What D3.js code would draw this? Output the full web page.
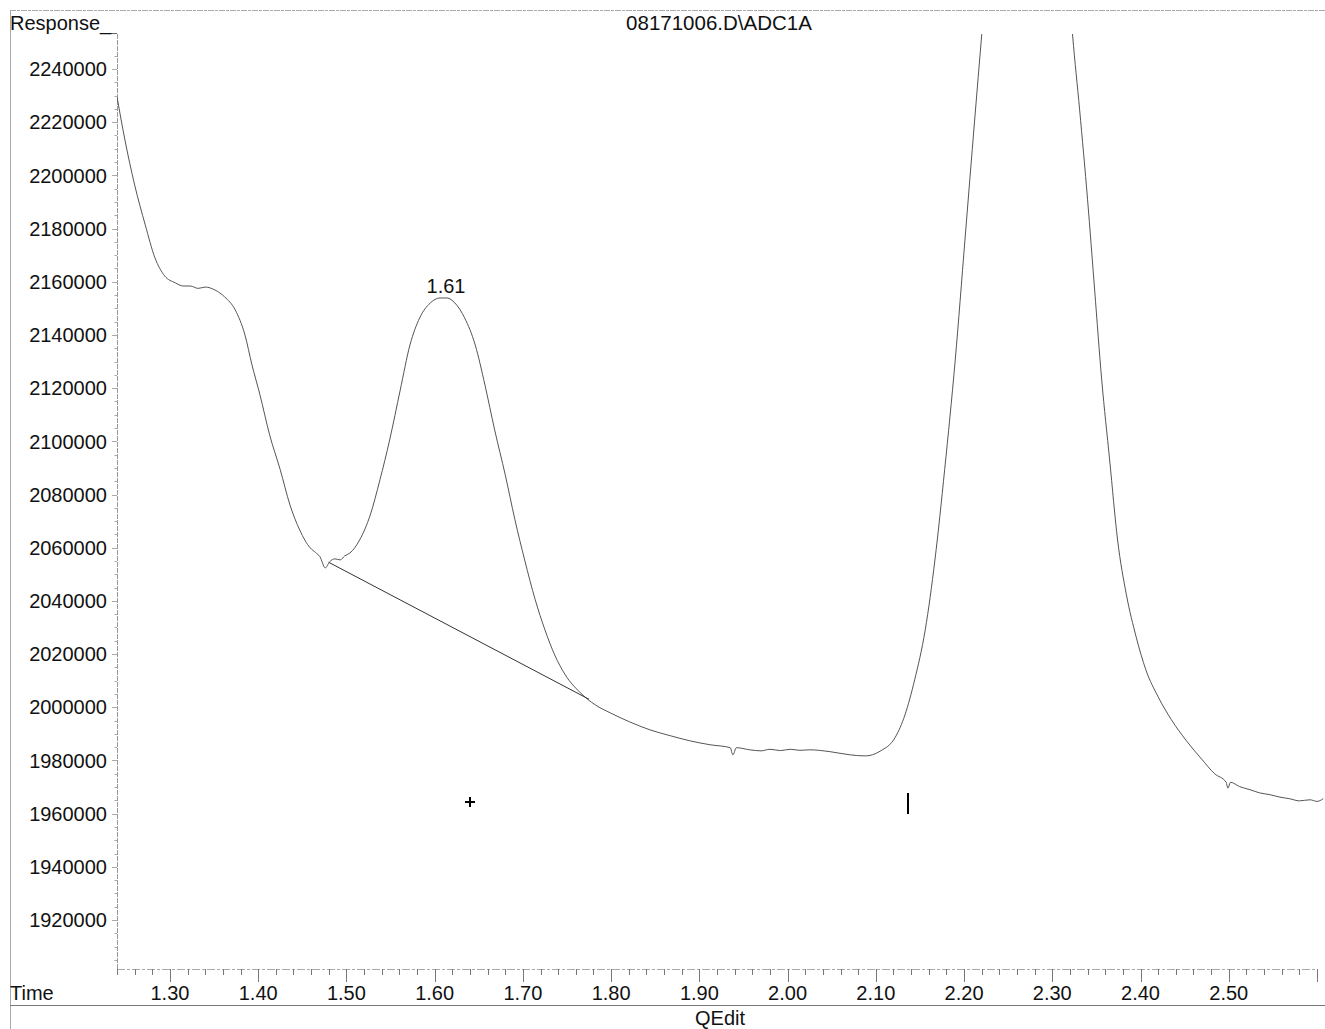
<!DOCTYPE html>
<html>
<head>
<meta charset="utf-8">
<script src="https://cdn.jsdelivr.net/npm/d3@7/dist/d3.min.js"></script>
<style>
  body { margin: 0; background: #fff; }
  svg text { font-family: Arial, "Liberation Sans", sans-serif; fill: #111; }
</style>
</head>
<body>
<div id="chart"></div>
<script>
(function(){

  // retention times (min)
  var times = [1.240, 1.249, 1.260, 1.272, 1.283, 1.294, 1.306, 1.315, 1.323, 1.332, 1.340, 1.351, 1.362, 1.374,
    1.385, 1.393, 1.402, 1.413, 1.425, 1.436, 1.447, 1.459, 1.465, 1.470, 1.476, 1.481, 1.487, 1.493, 1.498, 1.504,
    1.515, 1.527, 1.538, 1.549, 1.561, 1.572, 1.583, 1.595, 1.606, 1.614, 1.623, 1.634, 1.646,
    1.657, 1.668, 1.680, 1.691, 1.702, 1.714, 1.725, 1.736, 1.748, 1.765, 1.782, 1.799, 1.821,
    1.844, 1.867, 1.889, 1.912, 1.935, 1.938, 1.942, 1.957, 1.970, 1.980, 1.992, 2.003, 2.014, 2.025, 2.048, 2.071,
    2.088, 2.105, 2.122, 2.133, 2.144, 2.156, 2.167, 2.178, 2.190, 2.201, 2.212, 2.220, 2.240,
    2.270, 2.300, 2.323, 2.331, 2.340, 2.348, 2.356, 2.365, 2.374, 2.384, 2.395, 2.406, 2.420,
    2.435, 2.452, 2.469, 2.484, 2.497, 2.499, 2.502, 2.512, 2.524, 2.535, 2.547, 2.558, 2.569, 2.580, 2.592, 2.600, 2.607]

  // detector response at each time
  var responses = [2229500, 2213300, 2196400, 2181400, 2169000, 2162200, 2159600, 2158400, 2158400, 2157500, 2158000, 2156900, 2154300, 2149400,
    2140000, 2128700, 2117500, 2102400, 2089300, 2076100, 2066700, 2059900, 2058200, 2056600, 2052400, 2054700, 2055800, 2055400, 2056900, 2058000,
    2062900, 2072300, 2085500, 2100500, 2119300, 2136200, 2146400, 2152000, 2153900, 2153900, 2152000, 2146400, 2136200,
    2121200, 2104300, 2087400, 2070500, 2055400, 2040400, 2029100, 2019700, 2012200, 2005500, 2000900, 1997900, 1994500,
    1991500, 1989300, 1987400, 1985900, 1984800, 1982100, 1984800, 1984000, 1983600, 1984200, 1983700, 1984200, 1983800, 1984000, 1983300, 1982100,
    1981700, 1983500, 1988700, 1997100, 2010300, 2029100, 2055400, 2089300, 2130600, 2175700, 2220800, 2252800, 2330000,
    2420000, 2380000, 2252800, 2224600, 2190800, 2156900, 2123100, 2093000, 2062900, 2042300, 2026500, 2014100, 2003900,
    1995300, 1987400, 1980600, 1975000, 1971800, 1969600, 1971800, 1970200, 1969000, 1967800, 1967100, 1966200, 1965600, 1964800, 1965200, 1964600, 1965600]

  // integration baseline under the 1.61 peak
  var baseTimes = [1.480, 1.775]
  var baseResponses = [2054500, 2003000]

  // peak label
  var peakLabel = { time: 1.614, response: 2153900, text: "1.61" }

  // cursor marks
  var plusMark = { time: 1.640, response: 1964500 }
  var barMark = { time: 2.137, response: 1963600 }

  var yTicks = [1920000, 1940000, 1960000, 1980000, 2000000, 2020000, 2040000, 2060000, 2080000,
    2100000, 2120000, 2140000, 2160000, 2180000, 2200000, 2220000, 2240000]
  var xTicks = [1.30, 1.40, 1.50, 1.60, 1.70, 1.80, 1.90, 2.00, 2.10, 2.20, 2.30, 2.40, 2.50]

  var width = 1325,
    height = 1029

  var svg = d3.select("#chart")
    .append("svg")
    .attr("width", width)
    .attr("height", height)

  // scales
  var x = d3.scaleLinear().domain([1.24, 2.60]).range([117, 1317])
  var y = d3.scaleLinear().domain([1920000, 2240000]).range([920, 69])

  var plotTop = 34,
    plotBottom = 969

  // outer frame lines
  svg.append("line").attr("x1", 10).attr("x2", width).attr("y1", 10.5).attr("y2", 10.5)
    .attr("stroke", "#aaa").attr("stroke-dasharray", "6,1,3,1")
  svg.append("line").attr("x1", 10.5).attr("x2", 10.5).attr("y1", 10).attr("y2", height)
    .attr("stroke", "#aaa")
  svg.append("line").attr("x1", 10).attr("x2", width).attr("y1", 1005.5).attr("y2", 1005.5)
    .attr("stroke", "#777")

  // y axis
  svg.append("line").attr("x1", 117.5).attr("x2", 117.5).attr("y1", plotTop).attr("y2", plotBottom)
    .attr("stroke", "#999").attr("stroke-dasharray", "5,1")
  svg.append("line").attr("x1", 107).attr("x2", 117).attr("y1", plotTop - 0.5).attr("y2", plotTop - 0.5)
    .attr("stroke", "#666")

  var yMinor = d3.range(1905000, 2250000, 5000)
  svg.append("g").selectAll("line")
    .data(yMinor).enter().append("line")
    .attr("x1", function(d) { return yTicks.indexOf(d) >= 0 ? 112 : 114.5 })
    .attr("x2", 117)
    .attr("y1", function(d) { return Math.round(y(d)) + 0.5 })
    .attr("y2", function(d) { return Math.round(y(d)) + 0.5 })
    .attr("stroke", "#aaa")

  svg.append("g").selectAll("text")
    .data(yTicks).enter().append("text")
    .attr("x", 107)
    .attr("y", function(d) { return y(d) })
    .attr("dy", "0.36em")
    .attr("text-anchor", "end")
    .style("font-size", "20px")
    .text(function(d) { return d })

  // x axis
  svg.append("line").attr("x1", 117).attr("x2", 1317).attr("y1", plotBottom + 0.5).attr("y2", plotBottom + 0.5)
    .attr("stroke", "#aaa").attr("stroke-dasharray", "8,2,3,2")

  var xMinor = d3.range(124, 261).map(function(i) { return i / 100 }).filter(function(d, i) { return Math.round(d * 100) % 2 === 0 })
  svg.append("g").selectAll("line")
    .data(xMinor).enter().append("line")
    .attr("x1", function(d) { return Math.round(x(d)) + 0.5 })
    .attr("x2", function(d) { return Math.round(x(d)) + 0.5 })
    .attr("y1", plotBottom)
    .attr("y2", function(d) {
      var k = Math.round(d * 100)
      return (k % 10 === 0) ? plotBottom + 13 : plotBottom + 6
    })
    .attr("stroke", "#777")

  svg.append("g").selectAll("text")
    .data(xTicks).enter().append("text")
    .attr("x", function(d) { return x(d) })
    .attr("y", 1000)
    .attr("text-anchor", "middle")
    .style("font-size", "20px")
    .text(d3.format(".2f"))

  // titles
  svg.append("text").attr("x", 10).attr("y", 30).style("font-size", "20px").text("Response_")
  svg.append("text").attr("x", 719).attr("y", 30).attr("text-anchor", "middle").style("font-size", "20.5px").text("08171006.D\\ADC1A")
  svg.append("text").attr("x", 10).attr("y", 1000).style("font-size", "20px").text("Time")
  svg.append("text").attr("x", 720).attr("y", 1025).attr("text-anchor", "middle").style("font-size", "20px").text("QEdit")

  // clip the trace to the plot area
  svg.append("clipPath").attr("id", "plot-clip")
    .append("rect").attr("x", 117).attr("y", plotTop).attr("width", width - 117).attr("height", plotBottom - plotTop)

  var trace = times.map(function(t, i) { return [t, responses[i]] })

  var line = d3.line()
    .x(function(d) { return x(d[0]) })
    .y(function(d) { return y(d[1]) })
    .curve(d3.curveMonotoneX)

  svg.append("path")
    .datum(trace)
    .attr("clip-path", "url(#plot-clip)")
    .attr("d", line)
    .attr("fill", "none")
    .attr("stroke", "#555")
    .attr("stroke-width", 1)

  // baseline
  svg.append("path")
    .datum(baseTimes.map(function(t, i) { return [t, baseResponses[i]] }))
    .attr("d", d3.line().x(function(d) { return x(d[0]) }).y(function(d) { return y(d[1]) }))
    .attr("stroke", "#333")
    .attr("stroke-width", 1)

  // peak label
  svg.append("text")
    .attr("x", x(peakLabel.time) - 1)
    .attr("y", y(peakLabel.response) - 5)
    .attr("text-anchor", "middle")
    .style("font-size", "20px")
    .text(peakLabel.text)

  // cursor marks
  var px = Math.round(x(plusMark.time)), py = Math.round(y(plusMark.response))
  svg.append("path")
    .attr("d", "M" + (px - 5) + "," + py + "H" + (px + 5) + "M" + px + "," + (py - 5) + "V" + (py + 5))
    .attr("stroke", "#000").attr("stroke-width", 2)
  var bx = Math.round(x(barMark.time)), by = Math.round(y(barMark.response))
  svg.append("line")
    .attr("x1", bx).attr("x2", bx).attr("y1", by - 11).attr("y2", by + 10)
    .attr("stroke", "#000").attr("stroke-width", 2)

})();
</script>
</body>
</html>
